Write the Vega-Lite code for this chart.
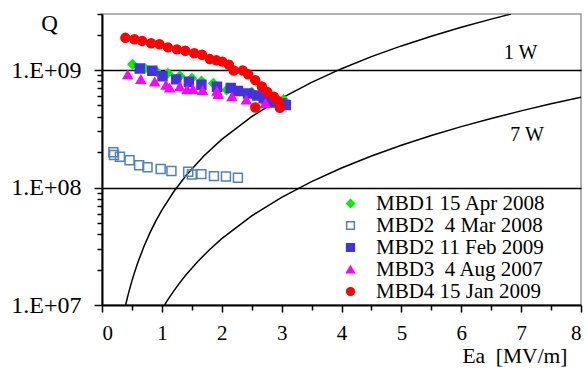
{
  "$schema": "https://vega.github.io/schema/vega-lite/v6.json",
  "width": 479,
  "height": 291,
  "autosize": {"type": "none"},
  "padding": {"left": 102, "top": 14, "right": 6, "bottom": 63},
  "background": "white",
  "config": {
    "view": {"stroke": "#999999", "strokeWidth": 1.5},
    "font": "Liberation Serif",
    "text": {"font": "Liberation Serif"},
    "legend": {"labelFont": "Liberation Serif", "titleFont": "Liberation Serif"},
    "axis": {"labelFont": "Liberation Serif", "titleFont": "Liberation Serif", "labelColor": "black", "titleColor": "black", "titleFontWeight": "normal", "domainColor": "black", "domainWidth": 2, "tickColor": "black", "tickWidth": 1.5, "labelOverlap": false}
  },
  "encoding": {
    "x": {
      "field": "E", "type": "quantitative",
      "scale": {"domain": [0, 8], "nice": false, "zero": false},
      "axis": {
        "values": [0, 0.5, 1, 1.5, 2, 2.5, 3, 3.5, 4, 4.5, 5, 5.5, 6, 6.5, 7, 7.5, 8],
        "labelExpr": "datum.value % 1 == 0 ? format(datum.value, 'd') : ''",
        "tickSize": {"condition": {"test": "datum.value % 1 == 0", "value": 7}, "value": 5},
        "grid": false,
        "labelFont": "Liberation Serif",
        "labelFontSize": 21,
        "labelPadding": 10,
        "title": "Ea \u00a0[MV/m]",
        "titleFont": "Liberation Serif",
        "titleFontSize": 21.5,
        "titleAlign": "right",
        "titleAnchor": "end",
        "titleBaseline": "alphabetic",
        "titleX": 465,
        "titleY": 57
      }
    },
    "y": {
      "field": "Q", "type": "quantitative",
      "scale": {"type": "log", "domain": [10000000, 3000000000], "nice": false},
      "axis": {
        "values": [10000000, 20000000, 30000000, 40000000, 50000000, 60000000, 70000000, 80000000, 90000000, 100000000, 200000000, 300000000, 400000000, 500000000, 600000000, 700000000, 800000000, 900000000, 1000000000, 2000000000, 3000000000],
        "labelExpr": "datum.value == 1e7 ? '1.E+07' : datum.value == 1e8 ? '1.E+08' : datum.value == 1e9 ? '1.E+09' : ''",
        "tickSize": {"condition": {"test": "datum.value == 1e7 || datum.value == 1e8 || datum.value == 1e9", "value": 8}, "value": 5},
        "grid": true,
        "gridColor": "black",
        "gridWidth": 1.5,
        "gridOpacity": {"condition": {"test": "datum.value == 1e8 || datum.value == 1e9", "value": 1}, "value": 0},
        "labelFont": "Liberation Serif",
        "labelFontSize": 24,
        "labelPadding": 13,
        "labelBaseline": "middle",
        "title": "Q",
        "titleFont": "Liberation Serif",
        "titleFontSize": 23,
        "titleAngle": 0,
        "titleAlign": "center",
        "titleBaseline": "alphabetic",
        "titleX": -53,
        "titleY": 16
      }
    }
  },
  "layer": [
    {
      "data": {"values": [
        {"c": "1W", "E": 0.395, "Q": 10017000},
        {"c": "1W", "E": 0.42, "Q": 11325000},
        {"c": "1W", "E": 0.45, "Q": 13000000},
        {"c": "1W", "E": 0.5, "Q": 16050000},
        {"c": "1W", "E": 0.55, "Q": 19420000},
        {"c": "1W", "E": 0.6, "Q": 23110000},
        {"c": "1W", "E": 0.7, "Q": 31460000},
        {"c": "1W", "E": 0.8, "Q": 41090000},
        {"c": "1W", "E": 0.9, "Q": 52000000},
        {"c": "1W", "E": 1.0, "Q": 64200000},
        {"c": "1W", "E": 1.2, "Q": 92450000},
        {"c": "1W", "E": 1.4, "Q": 125800000},
        {"c": "1W", "E": 1.7, "Q": 185500000},
        {"c": "1W", "E": 2.0, "Q": 256800000},
        {"c": "1W", "E": 2.5, "Q": 401300000},
        {"c": "1W", "E": 3.0, "Q": 577800000},
        {"c": "1W", "E": 3.5, "Q": 786500000},
        {"c": "1W", "E": 4.0, "Q": 1027000000},
        {"c": "1W", "E": 4.5, "Q": 1300000000},
        {"c": "1W", "E": 5.0, "Q": 1605000000},
        {"c": "1W", "E": 5.5, "Q": 1942000000},
        {"c": "1W", "E": 6.0, "Q": 2311000000},
        {"c": "1W", "E": 6.5, "Q": 2712000000},
        {"c": "1W", "E": 6.83, "Q": 2995000000},
        {"c": "7W", "E": 1.045, "Q": 10014000},
        {"c": "7W", "E": 1.1, "Q": 11100000},
        {"c": "7W", "E": 1.2, "Q": 13200000},
        {"c": "7W", "E": 1.3, "Q": 15500000},
        {"c": "7W", "E": 1.4, "Q": 17970000},
        {"c": "7W", "E": 1.6, "Q": 23480000},
        {"c": "7W", "E": 1.8, "Q": 29710000},
        {"c": "7W", "E": 2.0, "Q": 36680000},
        {"c": "7W", "E": 2.5, "Q": 57310000},
        {"c": "7W", "E": 3.0, "Q": 82530000},
        {"c": "7W", "E": 3.5, "Q": 112300000},
        {"c": "7W", "E": 4.0, "Q": 146700000},
        {"c": "7W", "E": 4.5, "Q": 185700000},
        {"c": "7W", "E": 5.0, "Q": 229300000},
        {"c": "7W", "E": 5.5, "Q": 277400000},
        {"c": "7W", "E": 6.0, "Q": 330100000},
        {"c": "7W", "E": 6.5, "Q": 387400000},
        {"c": "7W", "E": 7.0, "Q": 449300000},
        {"c": "7W", "E": 7.5, "Q": 515800000},
        {"c": "7W", "E": 8.0, "Q": 586900000}
      ]},
      "mark": {"type": "line", "color": "black", "strokeWidth": 1.5, "clip": true},
      "encoding": {"detail": {"field": "c", "type": "nominal"}}
    },
    {
      "data": {"values": [
        {"t": "1 W", "E": 6.99, "Q": 1240000000},
        {"t": "7 W", "E": 7.1, "Q": 250000000}
      ]},
      "mark": {"type": "text", "font": "Liberation Serif", "fontSize": 20, "align": "center", "baseline": "alphabetic", "color": "black"},
      "encoding": {"text": {"field": "t", "type": "nominal"}}
    },
    {
      "data": {"values": [
        {"s": "MBD1 15 Apr 2008", "E": 0.51, "Q": 1120000000},
        {"s": "MBD1 15 Apr 2008", "E": 0.72, "Q": 1030000000},
        {"s": "MBD1 15 Apr 2008", "E": 0.91, "Q": 970000000},
        {"s": "MBD1 15 Apr 2008", "E": 1.10, "Q": 940000000},
        {"s": "MBD1 15 Apr 2008", "E": 1.30, "Q": 890000000},
        {"s": "MBD1 15 Apr 2008", "E": 1.50, "Q": 850000000},
        {"s": "MBD1 15 Apr 2008", "E": 1.66, "Q": 806000000},
        {"s": "MBD1 15 Apr 2008", "E": 1.86, "Q": 770000000},
        {"s": "MBD1 15 Apr 2008", "E": 2.08, "Q": 676000000},
        {"s": "MBD1 15 Apr 2008", "E": 2.30, "Q": 660000000},
        {"s": "MBD1 15 Apr 2008", "E": 2.50, "Q": 650000000},
        {"s": "MBD1 15 Apr 2008", "E": 2.70, "Q": 610000000},
        {"s": "MBD1 15 Apr 2008", "E": 2.87, "Q": 570000000},
        {"s": "MBD1 15 Apr 2008", "E": 3.03, "Q": 560000000},
        {"s": "MBD2 \u00a04 Mar 2008", "E": 0.19, "Q": 200000000},
        {"s": "MBD2 \u00a04 Mar 2008", "E": 0.20, "Q": 189000000},
        {"s": "MBD2 \u00a04 Mar 2008", "E": 0.30, "Q": 183000000},
        {"s": "MBD2 \u00a04 Mar 2008", "E": 0.46, "Q": 171000000},
        {"s": "MBD2 \u00a04 Mar 2008", "E": 0.62, "Q": 155000000},
        {"s": "MBD2 \u00a04 Mar 2008", "E": 0.76, "Q": 149000000},
        {"s": "MBD2 \u00a04 Mar 2008", "E": 0.98, "Q": 144000000},
        {"s": "MBD2 \u00a04 Mar 2008", "E": 1.16, "Q": 138000000},
        {"s": "MBD2 \u00a04 Mar 2008", "E": 1.44, "Q": 136000000},
        {"s": "MBD2 \u00a04 Mar 2008", "E": 1.50, "Q": 129000000},
        {"s": "MBD2 \u00a04 Mar 2008", "E": 1.66, "Q": 130000000},
        {"s": "MBD2 \u00a04 Mar 2008", "E": 1.87, "Q": 125000000},
        {"s": "MBD2 \u00a04 Mar 2008", "E": 2.07, "Q": 124000000},
        {"s": "MBD2 \u00a04 Mar 2008", "E": 2.27, "Q": 121000000},
        {"s": "MBD2 11 Feb 2009", "E": 0.63, "Q": 1030000000},
        {"s": "MBD2 11 Feb 2009", "E": 0.84, "Q": 987000000},
        {"s": "MBD2 11 Feb 2009", "E": 1.01, "Q": 884000000},
        {"s": "MBD2 11 Feb 2009", "E": 1.24, "Q": 833000000},
        {"s": "MBD2 11 Feb 2009", "E": 1.45, "Q": 794000000},
        {"s": "MBD2 11 Feb 2009", "E": 1.66, "Q": 750000000},
        {"s": "MBD2 11 Feb 2009", "E": 1.92, "Q": 721000000},
        {"s": "MBD2 11 Feb 2009", "E": 2.15, "Q": 703000000},
        {"s": "MBD2 11 Feb 2009", "E": 2.27, "Q": 662000000},
        {"s": "MBD2 11 Feb 2009", "E": 2.44, "Q": 631000000},
        {"s": "MBD2 11 Feb 2009", "E": 2.59, "Q": 607000000},
        {"s": "MBD2 11 Feb 2009", "E": 2.70, "Q": 574000000},
        {"s": "MBD2 11 Feb 2009", "E": 2.75, "Q": 537000000},
        {"s": "MBD2 11 Feb 2009", "E": 2.86, "Q": 529000000},
        {"s": "MBD2 11 Feb 2009", "E": 3.00, "Q": 519000000},
        {"s": "MBD2 11 Feb 2009", "E": 3.07, "Q": 504000000},
        {"s": "MBD3 \u00a04 Aug 2007", "E": 0.43, "Q": 912000000},
        {"s": "MBD3 \u00a04 Aug 2007", "E": 0.65, "Q": 833000000},
        {"s": "MBD3 \u00a04 Aug 2007", "E": 0.88, "Q": 795000000},
        {"s": "MBD3 \u00a04 Aug 2007", "E": 1.07, "Q": 745000000},
        {"s": "MBD3 \u00a04 Aug 2007", "E": 1.13, "Q": 706000000},
        {"s": "MBD3 \u00a04 Aug 2007", "E": 1.30, "Q": 721000000},
        {"s": "MBD3 \u00a04 Aug 2007", "E": 1.42, "Q": 680000000},
        {"s": "MBD3 \u00a04 Aug 2007", "E": 1.52, "Q": 685000000},
        {"s": "MBD3 \u00a04 Aug 2007", "E": 1.68, "Q": 670000000},
        {"s": "MBD3 \u00a04 Aug 2007", "E": 1.92, "Q": 662000000},
        {"s": "MBD3 \u00a04 Aug 2007", "E": 1.94, "Q": 621000000},
        {"s": "MBD3 \u00a04 Aug 2007", "E": 2.17, "Q": 593000000},
        {"s": "MBD3 \u00a04 Aug 2007", "E": 2.41, "Q": 556000000},
        {"s": "MBD3 \u00a04 Aug 2007", "E": 2.73, "Q": 521000000},
        {"s": "MBD4 15 Jan 2009", "E": 0.39, "Q": 1880000000},
        {"s": "MBD4 15 Jan 2009", "E": 0.54, "Q": 1830000000},
        {"s": "MBD4 15 Jan 2009", "E": 0.67, "Q": 1770000000},
        {"s": "MBD4 15 Jan 2009", "E": 0.82, "Q": 1690000000},
        {"s": "MBD4 15 Jan 2009", "E": 0.96, "Q": 1660000000},
        {"s": "MBD4 15 Jan 2009", "E": 1.10, "Q": 1560000000},
        {"s": "MBD4 15 Jan 2009", "E": 1.25, "Q": 1500000000},
        {"s": "MBD4 15 Jan 2009", "E": 1.39, "Q": 1460000000},
        {"s": "MBD4 15 Jan 2009", "E": 1.54, "Q": 1390000000},
        {"s": "MBD4 15 Jan 2009", "E": 1.67, "Q": 1350000000},
        {"s": "MBD4 15 Jan 2009", "E": 1.80, "Q": 1240000000},
        {"s": "MBD4 15 Jan 2009", "E": 1.91, "Q": 1210000000},
        {"s": "MBD4 15 Jan 2009", "E": 2.01, "Q": 1180000000},
        {"s": "MBD4 15 Jan 2009", "E": 2.12, "Q": 1110000000},
        {"s": "MBD4 15 Jan 2009", "E": 2.20, "Q": 990000000},
        {"s": "MBD4 15 Jan 2009", "E": 2.35, "Q": 990000000},
        {"s": "MBD4 15 Jan 2009", "E": 2.44, "Q": 920000000},
        {"s": "MBD4 15 Jan 2009", "E": 2.56, "Q": 820000000},
        {"s": "MBD4 15 Jan 2009", "E": 2.67, "Q": 724000000},
        {"s": "MBD4 15 Jan 2009", "E": 2.76, "Q": 650000000},
        {"s": "MBD4 15 Jan 2009", "E": 2.87, "Q": 593000000},
        {"s": "MBD4 15 Jan 2009", "E": 2.94, "Q": 545000000},
        {"s": "MBD4 15 Jan 2009", "E": 2.97, "Q": 478000000},
        {"s": "MBD4 15 Jan 2009", "E": 2.56, "Q": 480000000}
      ]},
      "mark": {"type": "point", "size": 80, "strokeWidth": 1.5, "opacity": 1},
      "encoding": {
        "shape": {
          "field": "s", "type": "nominal",
          "scale": {"domain": ["MBD1 15 Apr 2008", "MBD2 \u00a04 Mar 2008", "MBD2 11 Feb 2009", "MBD3 \u00a04 Aug 2007", "MBD4 15 Jan 2009"], "range": ["diamond", "square", "square", "triangle-up", "circle"]},
          "legend": {"orient": "none", "legendX": 238, "legendY": 179, "title": null, "labelFont": "Liberation Serif", "labelFontSize": 21, "labelColor": "black", "symbolSize": 60, "symbolStrokeWidth": 1.5, "labelOffset": 15, "rowPadding": 0, "labelLimit": 300}
        },
        "fill": {
          "field": "s", "type": "nominal",
          "scale": {"domain": ["MBD1 15 Apr 2008", "MBD2 \u00a04 Mar 2008", "MBD2 11 Feb 2009", "MBD3 \u00a04 Aug 2007", "MBD4 15 Jan 2009"], "range": ["#00ee00", "transparent", "#4433dd", "#ff00ff", "#ff0000"]},
          "legend": {"orient": "none", "legendX": 238, "legendY": 179, "title": null, "labelFont": "Liberation Serif", "labelFontSize": 21, "labelColor": "black", "symbolSize": 60, "symbolStrokeWidth": 1.5, "labelOffset": 15, "rowPadding": 0, "labelLimit": 300}
        },
        "stroke": {
          "field": "s", "type": "nominal",
          "scale": {"domain": ["MBD1 15 Apr 2008", "MBD2 \u00a04 Mar 2008", "MBD2 11 Feb 2009", "MBD3 \u00a04 Aug 2007", "MBD4 15 Jan 2009"], "range": ["#00ee00", "#4f81bd", "#4433dd", "#ff00ff", "#ff0000"]},
          "legend": {"orient": "none", "legendX": 238, "legendY": 179, "title": null, "labelFont": "Liberation Serif", "labelFontSize": 21, "labelColor": "black", "symbolSize": 60, "symbolStrokeWidth": 1.5, "labelOffset": 15, "rowPadding": 0, "labelLimit": 300}
        }
      }
    }
  ]
}
